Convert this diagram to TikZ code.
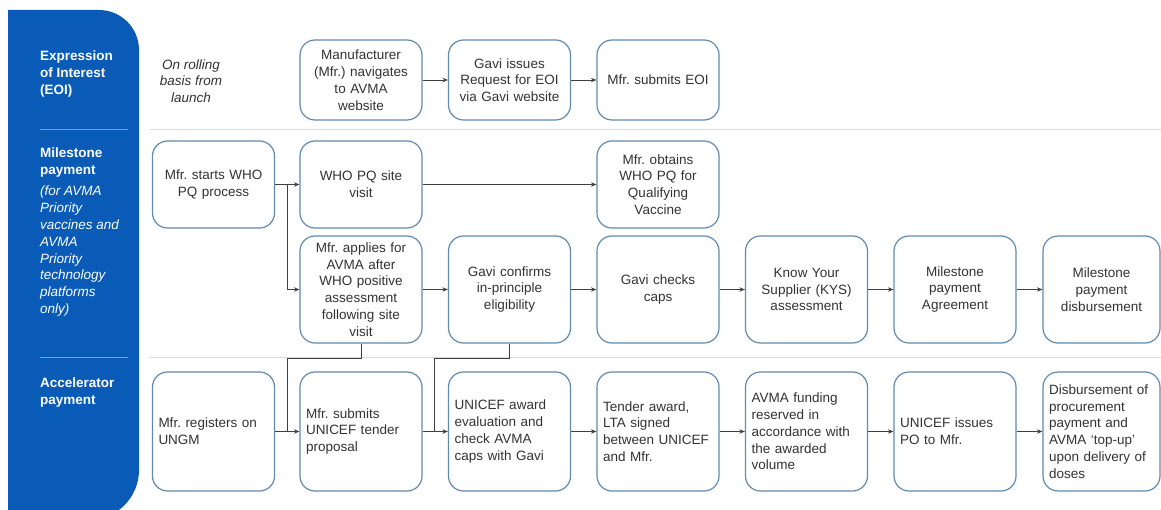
\documentclass[tikz,border=0pt]{standalone}
\usepackage{fontspec}
\setmainfont{Liberation Sans}
\usepackage{xcolor}
\usetikzlibrary{positioning, calc, arrows, arrows.meta}
\frenchspacing
\definecolor{avmablue}{RGB}{10,91,184}
\definecolor{boxblue}{RGB}{96,138,174}
\definecolor{linegrey}{RGB}{64,64,64}
\definecolor{textgrey}{RGB}{50,50,50}
\definecolor{rulegrey}{RGB}{218,218,218}
\definecolor{sidesep}{RGB}{120,160,215}
\tikzstyle{arrow} = [line width=0.9pt,draw=linegrey,-{Stealth[length=5.5pt,width=4.5pt]}]
\tikzstyle{link} = [line width=0.9pt,draw=linegrey]
\tikzstyle{proc} = [draw=boxblue,line width=1.2pt,rounded corners=15pt,text width=110pt,inner xsep=6pt,inner ysep=2pt,align=center,text=textgrey,font=\fontsize{13.5}{16.8}\selectfont]
\tikzstyle{procl} = [proc,align=left]
\tikzstyle{side} = [anchor=north west,inner sep=0pt,align=left,text=white,font=\fontsize{13.5}{16.8}\selectfont]

\begin{document}
\begin{tikzpicture}[x=1pt,y=-1pt]
	\useasboundingbox (0,0) rectangle (1161,510);
	\begin{scope}
	\clip (0,0) rectangle (1161,510);
	
	% sidebar
	\fill[avmablue] (8,10) -- (99,10) .. controls (121.1,10) and (139,27.9) .. (139,50) -- (139,470) .. controls (139,497.6) and (116.6,520) .. (89,520) -- (8,520) -- cycle;
	\draw[sidesep,line width=1pt] (40,130) -- (128,130);
	\draw[sidesep,line width=1pt] (40,357) -- (128,357);
	\draw[rulegrey,line width=1pt] (150,130) -- (1161,130);
	\draw[rulegrey,line width=1pt] (150,357) -- (1161,357);
	
	\node[side,font=\bfseries\fontsize{13.5}{16.8}\selectfont] (eoi) at (40,51) {Expression\\of Interest\\(EOI)};
	\node[side,font=\bfseries\fontsize{13.5}{16.8}\selectfont] (mile) at (40,148) {Milestone\\payment};
	\node[side,font=\itshape\fontsize{13.5}{16.8}\selectfont] (mnote) at (40,186) {(for AVMA\\Priority\\vaccines and\\AVMA\\Priority\\technology\\platforms\\only)};
	\node[side,font=\bfseries\fontsize{13.5}{16.8}\selectfont] (accel) at (40,378) {Accelerator\\payment};
	
	\node[align=center,text=textgrey,font=\itshape\fontsize{13.5}{16.8}\selectfont] (rolling) at (191,81) {On rolling\\basis from\\launch};
	
	% columns and rows
	\coordinate (col0) at (213.5,0);
	\coordinate (col1) at (361,0);
	\coordinate (col2) at (509.5,0);
	\coordinate (col3) at (658,0);
	\coordinate (col4) at (806.5,0);
	\coordinate (col5) at (955,0);
	\coordinate (col6) at (1101.5,0);
	
	\coordinate (row1) at (0,80);
	\coordinate (row2) at (0,184.5);
	\coordinate (row3) at (0,289.5);
	\coordinate (row4) at (0,431.5);
	
	% expression of interest
	\node[proc,minimum height=80pt] (navig) at (col1 |- row1) {Manufacturer\\(Mfr.) navigates\\to AVMA\\website};
	\node[proc,minimum height=80pt] (request) at (col2 |- row1) {Gavi issues\\Request for EOI\\via Gavi website};
	\node[proc,minimum height=80pt] (submit) at (col3 |- row1) {Mfr. submits EOI};
	
	% milestone payment
	\node[proc,minimum height=87pt] (pqstart) at (col0 |- row2) {Mfr. starts WHO\\PQ process};
	\node[proc,minimum height=87pt] (site) at (col1 |- row2) {WHO PQ site\\visit};
	\node[proc,minimum height=87pt] (obtain) at (col3 |- row2) {Mfr. obtains\\WHO PQ for\\Qualifying\\Vaccine};
	
	\node[proc,minimum height=107pt] (apply) at (col1 |- row3) {Mfr. applies for\\AVMA after\\WHO positive\\assessment\\following site\\visit};
	\node[proc,minimum height=107pt] (confirm) at (col2 |- row3) {Gavi confirms\\in-principle\\eligibility};
	\node[proc,minimum height=107pt] (caps) at (col3 |- row3) {Gavi checks\\caps};
	\node[proc,minimum height=107pt] (kys) at (col4 |- row3) {Know Your\\Supplier (KYS)\\assessment};
	\node[proc,minimum height=107pt] (agree) at (col5 |- row3) {Milestone\\payment\\Agreement};
	\node[proc,minimum height=107pt,text width=105pt] (disb) at (col6 |- row3) {Milestone\\payment\\disbursement};
	
	% accelerator payment
	\node[procl,minimum height=119pt] (ungm) at (col0 |- row4) {Mfr. registers on\\UNGM};
	\node[procl,minimum height=119pt] (tender) at (col1 |- row4) {Mfr. submits\\UNICEF tender\\proposal};
	\node[procl,minimum height=119pt] (evalu) at (col2 |- row4) {UNICEF award\\evaluation and\\check AVMA\\caps with Gavi};
	\node[procl,minimum height=119pt] (lta) at (col3 |- row4) {Tender award,\\LTA signed\\between UNICEF\\and Mfr.};
	\node[procl,minimum height=119pt] (fund) at (col4 |- row4) {AVMA funding\\reserved in\\accordance with\\the awarded\\volume};
	\node[procl,minimum height=119pt] (po) at (col5 |- row4) {UNICEF issues\\PO to Mfr.};
	\node[procl,minimum height=119pt,text width=105pt] (payout) at (col6 |- row4) {Disbursement of\\procurement\\payment and\\AVMA `top-up'\\upon delivery of\\doses};
	
	% connectors
	\coordinate (split) at (287,184.5);
	\coordinate (joinA) at (287,358);
	\coordinate (joinB) at (434,358);
	
	\draw[arrow] (navig) -- (request);
	\draw[arrow] (request) -- (submit);
	
	\draw[link] (pqstart.east) -- (split);
	\draw[arrow] (split) -- (site);
	\draw[arrow] (split) |- (apply);
	\draw[arrow] (site) -- (obtain);
	\draw[arrow] (apply) -- (confirm);
	\draw[arrow] (confirm) -- (caps);
	\draw[arrow] (caps) -- (kys);
	\draw[arrow] (kys) -- (agree);
	\draw[arrow] (agree) -- (disb);
	
	\draw[link] (apply.south) |- (joinA) -- (joinA |- tender);
	\draw[link] (confirm.south) |- (joinB) -- (joinB |- evalu);
	\draw[arrow] (ungm) -- (tender);
	\draw[arrow] (tender) -- (evalu);
	\draw[arrow] (evalu) -- (lta);
	\draw[arrow] (lta) -- (fund);
	\draw[arrow] (fund) -- (po);
	\draw[arrow] (po) -- (payout);
	\end{scope}
\end{tikzpicture}
\end{document}
